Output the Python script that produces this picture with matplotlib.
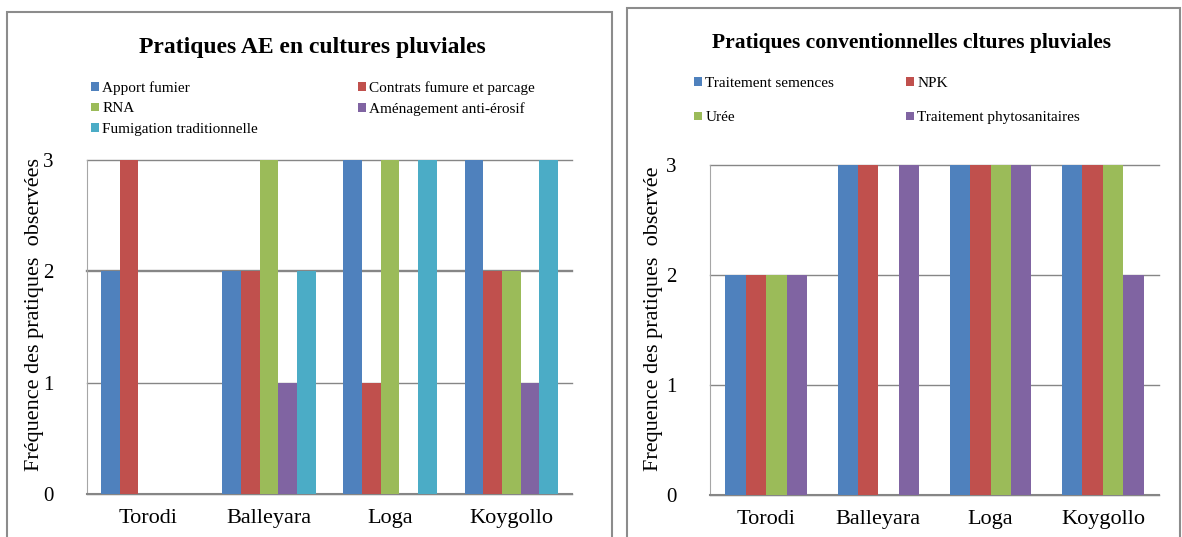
import matplotlib
matplotlib.use("Agg")
import matplotlib.pyplot as plt
from matplotlib.patches import Rectangle
import numpy as np

plt.rcParams['font.family'] = ['Liberation Serif', 'DejaVu Serif']

sites = ["Torodi", "Balleyara", "Loga", "Koygollo"]

# Agro-ecological practices (rain-fed crops)
ae_labels = ["Apport fumier", "Contrats fumure et parcage", "RNA",
             "Aménagement anti-érosif", "Fumigation traditionnelle"]
apport_fumier = [2, 2, 3, 3]
contrats_fumure = [3, 2, 1, 2]
rna = [0, 3, 3, 2]
amenagement = [0, 1, 0, 1]
fumigation = [0, 2, 3, 3]

# Conventional practices (rain-fed crops)
conv_labels = ["Traitement semences", "NPK", "Urée", "Traitement phytosanitaires"]
traitement_semences = [2, 3, 3, 3]
npk = [2, 3, 3, 3]
uree = [2, 0, 3, 3]
phyto = [2, 3, 3, 2]

colors = ["#4F81BD", "#C0504D", "#9BBB59", "#8064A2", "#4BACC6"]
grid_col = "#868686"

W, H = 1182, 537
fig = plt.figure(figsize=(W / 100, H / 100), dpi=100)
fig.patch.set_facecolor("white")

# panel frames
fig.patches.append(Rectangle((7 / W, -0.05), (612 - 7) / W, 1.05 - 12 / H,
                             transform=fig.transFigure, fill=False,
                             edgecolor="#8c8c8c", linewidth=1.5))
fig.patches.append(Rectangle((627 / W, -0.05), (1180 - 627) / W, 1.05 - 8 / H,
                             transform=fig.transFigure, fill=False,
                             edgecolor="#8c8c8c", linewidth=1.5))


def draw_panel(ax, series, labels, ylabel):
    n = len(series)
    x = np.arange(len(sites))
    w = 1.0 / (n + 1.5)
    handles = []
    for i, vals in enumerate(series):
        offs = (i - (n - 1) / 2) * w
        b = ax.bar(x + offs, vals, width=w, color=colors[i], label=labels[i],
                   zorder=3)
        handles.append(b)
    ax.set_xlim(-0.5, len(sites) - 0.5)
    ax.set_ylim(0, 3)
    ax.set_yticks([0, 1, 2, 3])
    ax.set_xticks(x)
    ax.set_xticklabels(sites, fontsize=16)
    ax.tick_params(axis="y", length=0, pad=24, labelsize=15)
    ax.tick_params(axis="x", length=0, pad=11)
    ax.yaxis.grid(True, color=grid_col, linewidth=1.0, zorder=0)
    ax.set_axisbelow(True)
    for s in ("right", "top"):
        ax.spines[s].set_visible(False)
    ax.spines["left"].set_color("#a6a6a6")
    ax.spines["left"].set_linewidth(0.8)
    ax.spines["bottom"].set_color(grid_col)
    ax.spines["bottom"].set_linewidth(1.5)
    for gl in ax.yaxis.get_gridlines():
        gl.set_clip_on(False)
    ax.set_ylabel(ylabel, fontsize=16)
    return handles


ax1 = fig.add_axes([87 / W, 1 - 494 / H, (572 - 87) / W, (494 - 160) / H])
h1 = draw_panel(ax1, [apport_fumier, contrats_fumure, rna, amenagement, fumigation],
                ae_labels, "Fréquence des pratiques  observées")
ax1.yaxis.set_label_coords(-0.088, 0.536)
ax1.yaxis.get_gridlines()[2].set_linewidth(1.7)

ax2 = fig.add_axes([710 / W, 1 - 495 / H, (1159 - 710) / W, (495 - 165) / H])
h2 = draw_panel(ax2, [traitement_semences, npk, uree, phyto],
                conv_labels, "Frequence des pratiques  observée")
ax2.yaxis.set_label_coords(-0.105, 0.533)

fig.text(312 / W, 1 - 47 / H, "Pratiques AE en cultures pluviales",
         ha="center", va="center", fontsize=17, fontweight="bold")
fig.text(911 / W, 1 - 43 / H, "Pratiques conventionnelles cltures pluviales",
         ha="center", va="center", fontsize=15.5, fontweight="bold")

leg_kw = dict(frameon=False, fontsize=11, handlelength=0.5, handleheight=0.5,
              handletextpad=0.25, borderaxespad=0, borderpad=0, loc="upper left")

# left legend, two columns
fig.legend([h1[0], h1[2], h1[4]], [ae_labels[0], ae_labels[2], ae_labels[4]],
           bbox_to_anchor=(91 / W, 1 - 81 / H), labelspacing=0.5, **leg_kw)
fig.legend([h1[1], h1[3]], [ae_labels[1], ae_labels[3]],
           bbox_to_anchor=(358 / W, 1 - 81 / H), labelspacing=0.5, **leg_kw)

# right legend, two columns
fig.legend([h2[0], h2[2]], [conv_labels[0], conv_labels[2]],
           bbox_to_anchor=(694 / W, 1 - 77 / H), labelspacing=1.4, **leg_kw)
fig.legend([h2[1], h2[3]], [conv_labels[1], conv_labels[3]],
           bbox_to_anchor=(906 / W, 1 - 77 / H), labelspacing=1.4, **leg_kw)

fig.savefig("out.png", dpi=100, facecolor="white")
